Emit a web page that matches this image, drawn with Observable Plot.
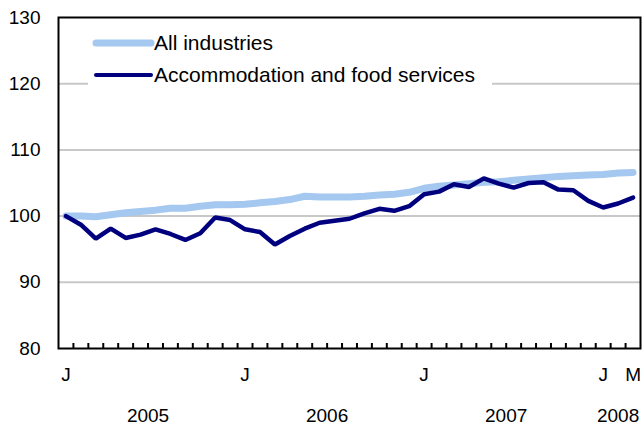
<!DOCTYPE html>
<html>
<head>
<meta charset="utf-8">
<script src="https://cdn.jsdelivr.net/npm/d3@7"></script>
<script src="https://cdn.jsdelivr.net/npm/@observablehq/plot@0.6"></script>
<style>
  html, body { margin: 0; padding: 0; background: #fff; }
  #chart svg { display: block; }
</style>
</head>
<body>
<div id="chart"></div>
<script>
// Monthly index, January 2005 = 100, Jan 2005 – Mar 2008
const monthIndex = d3.range(39);
const allIndustries = [
  100.0, 100.0, 99.9, 100.2, 100.5, 100.7, 100.9, 101.2, 101.2, 101.5, 101.7, 101.7,
  101.8, 102.0, 102.2, 102.5, 103.0, 102.9, 102.9, 102.9, 103.0, 103.2, 103.3, 103.6,
  104.2, 104.5, 104.7, 104.9, 105.1, 105.2, 105.4, 105.6, 105.8, 106.0, 106.1, 106.2,
  106.3, 106.5, 106.6
];
const accommodation = [
  100.0, 98.7, 96.6, 98.1, 96.7, 97.2, 98.0, 97.3, 96.4, 97.4, 99.8, 99.4,
  98.0, 97.6, 95.7, 97.0, 98.1, 99.0, 99.3, 99.6, 100.4, 101.1, 100.8, 101.5,
  103.3, 103.7, 104.8, 104.4, 105.7, 104.9, 104.3, 105.0, 105.1, 104.0, 103.9, 102.3,
  101.3, 101.9, 102.8
];
const seriesNames = ["All industries", "Accommodation and food services"];
const seriesColors = ["#a4c8ef", "#00007f"];
const yTicks = [80, 90, 100, 110, 120, 130];
const gridValues = [90, 100, 110, 120];
const monthLabelPos = [0, 12, 24, 36, 38];
const monthLabels = ["J", "J", "J", "J", "M"];
const yearLabelPos = [5.5, 17.5, 29.5, 37];
const yearLabels = ["2005", "2006", "2007", "2008"];
const monthBounds = d3.range(38).map(i => i + 0.5);

const rowsAll = monthIndex.map(i => ({i, v: allIndustries[i]}));
const rowsAcc = monthIndex.map(i => ({i, v: accommodation[i]}));
const FONT = "'Liberation Sans', Arial, Helvetica, sans-serif";

const chart = Plot.plot({
  width: 643,
  height: 437,
  marginLeft: 58,
  marginRight: 3,
  marginTop: 17,
  marginBottom: 89,
  style: {fontFamily: FONT, fontSize: "19px", background: "#fff", color: "#000"},
  x: {type: "linear", domain: [-0.5, 38.5], axis: null},
  y: {domain: [80, 130], axis: null},
  marks: [
    Plot.ruleY(gridValues, {stroke: "#c8c8c8", strokeWidth: 2}),
    Plot.line(rowsAll, {x: "i", y: "v", stroke: seriesColors[0], strokeWidth: 7, strokeLinejoin: "round"}),
    Plot.line(rowsAcc, {x: "i", y: "v", stroke: seriesColors[1], strokeWidth: 4.5, strokeLinejoin: "miter"}),
    Plot.axisX(monthBounds, {anchor: "bottom", tickSize: 5, dy: -5, tickFormat: () => "", label: null, strokeWidth: 2}),
    Plot.axisY(yTicks, {anchor: "left", tickSize: 0, tickPadding: 18, label: null, fontSize: 19}),
    Plot.text(monthLabelPos, {x: d => d, text: (d, i) => monthLabels[i], frameAnchor: "bottom", dy: 32, fontSize: 19}),
    Plot.text(yearLabelPos, {x: d => d, text: (d, i) => yearLabels[i], frameAnchor: "bottom", dy: 73, fontSize: 19}),
    Plot.frame({stroke: "#000", strokeWidth: 2})
  ]
});
document.getElementById("chart").appendChild(chart);

// Legend (inside the plot box, top-left)
const svg = d3.select(chart);
const lg = svg.append("g").attr("font-family", FONT).attr("font-size", "21px").attr("text-anchor", "start");
lg.append("rect").attr("x", 88).attr("y", 28).attr("width", 404).attr("height", 62).attr("fill", "#fff");
seriesNames.forEach((name, k) => {
  const yy = 43 + k * 32;
  lg.append("line").attr("x1", 96).attr("x2", 151).attr("y1", yy).attr("y2", yy)
    .attr("stroke", seriesColors[k]).attr("stroke-width", k === 0 ? 7 : 4).attr("stroke-linecap", "round");
  lg.append("text").attr("x", 154).attr("y", yy).attr("dy", "0.35em").attr("fill", "#000")
    .attr("text-anchor", "start").text(name);
});
</script>
</body>
</html>
